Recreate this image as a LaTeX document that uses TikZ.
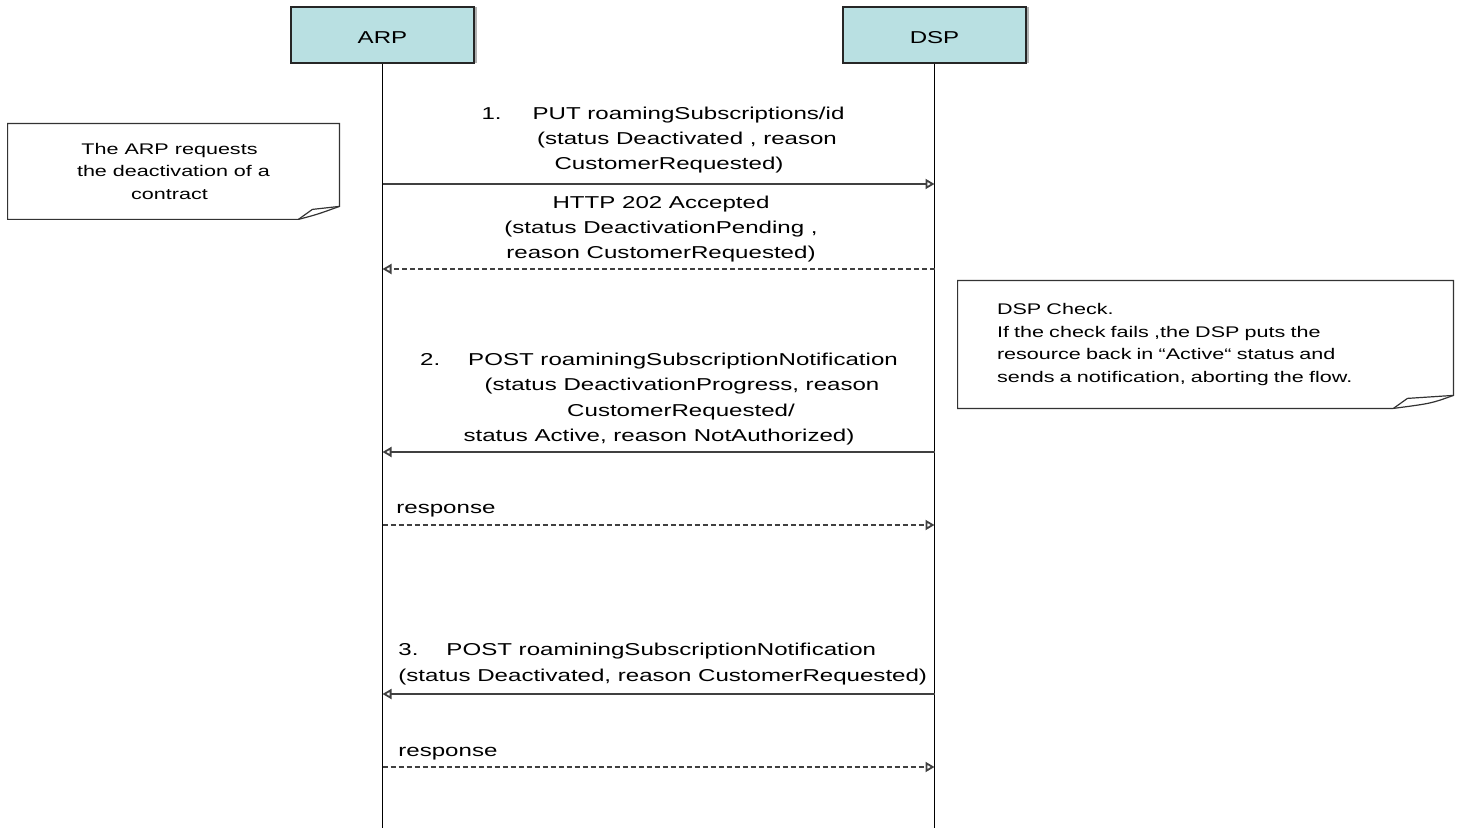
\documentclass[tikz,border=0pt]{standalone}
\usepackage{fontspec}
\setmainfont{Liberation Sans}[FakeStretch=1.40]
\usetikzlibrary{arrows.meta,calc,shadows}

\definecolor{actorfill}{HTML}{B9E0E2}
\definecolor{linegray}{HTML}{404040}

\tikzset{
  actor/.style={draw=black!85, fill=actorfill, line width=0.6pt,
    minimum width=91.5pt, minimum height=28pt, font=\fontsize{8.6}{10}\selectfont,
    text height=9pt, text depth=0pt,
    drop shadow={shadow xshift=1.4pt, shadow yshift=0pt, fill=black!30, opacity=1}},
  lifeline/.style={black, line width=0.6pt},
  msg/.style={linegray, line width=0.9pt, -{Triangle[open,length=4.5pt,width=5pt]}},
  reply/.style={msg, dash pattern=on 2.5pt off 1.5pt},
  msglabel/.style={font=\fontsize{8.6}{12.6}\selectfont, inner sep=0pt},
  note/.style={font=\fontsize{7.7}{11.4}\selectfont, inner sep=0pt},
  notebox/.style={draw=black!80, line width=0.6pt},
}

% outline of a note with the bottom right corner folded up
\newcommand\foldnote[2]{%
  \draw[notebox] (#1.north west) -- (#1.north east) -- ($(#1.south east)+(0,-13)$)
    .. controls ($(#1.south east)+(-22,-5)$) .. ($(#1.south east)+(-#2,0)$)
    -- (#1.south west) -- cycle;
  \draw[notebox] ($(#1.south east)+(-#2,0)$) -- ($(#1.south east)+(-#2+14,-10)$)
    -- ($(#1.south east)+(0,-13)$);
}

\begin{document}
\begin{tikzpicture}[x=0.5pt, y=-0.5pt]
  \useasboundingbox (0,0) rectangle (1460,828);

  % participants
  \node[actor] (arp) at (382.5,35) {ARP};
  \node[actor] (dsp) at (934.5,35) {DSP};
  \draw[lifeline] (arp.south) -- (arp |- 0,828);
  \draw[lifeline] (dsp.south) -- (dsp |- 0,828);

  % notes
  \node[note, minimum width=165.5pt, minimum height=47.5pt, align=center] (leftnote) at (173.5,171.5)
    {The ARP requests\hspace*{4pt}\\the deactivation of a\hspace*{4pt}\\contract\hspace*{4pt}};
  \foldnote{leftnote}{41}
  \node[note, minimum height=63.5pt, text width=208.5pt, inner xsep=19.5pt, align=left] (rightnote) at (1205.5,344.5)
    {DSP Check.\\If the check fails ,the DSP puts the\\resource back in “Active“ status and\\sends a notification, aborting the flow.};
  \foldnote{rightnote}{60}

  % 1. deactivation request
  \draw[msg] (arp |- 0,184) -- (dsp |- 0,184);
  \node[msglabel, align=center] (m1) at (678,140)
    {1.\hspace{15.5pt}PUT roamingSubscriptions/id\hspace*{15pt}\\\hspace{9pt}(status Deactivated , reason\\CustomerRequested)\hspace*{9pt}};
  \draw[reply] (dsp |- 0,269) -- (arp |- 0,269);
  \node[msglabel, align=center] (r1) at (661,229)
    {HTTP 202 Accepted\\(status DeactivationPending ,\\reason CustomerRequested)};

  % 2. notification
  \draw[msg] (dsp |- 0,452) -- (arp |- 0,452);
  \node[msglabel, align=center] (m2) at (659,399)
    {2.\hspace{14pt}POST roaminingSubscriptionNotification\\
     \hspace{23pt}(status DeactivationProgress, reason\\
     \hspace{22pt}CustomerRequested/\\status Active, reason NotAuthorized)};
  \draw[reply] (arp |- 0,525) -- (dsp |- 0,525);
  \node[msglabel, anchor=west] (r2) at (396,511) {response};

  % 3. final notification
  \draw[msg] (dsp |- 0,694) -- (arp |- 0,694);
  \node[msglabel, anchor=west, align=left] (m3) at (398,664)
    {3.\hspace{14pt}POST roaminingSubscriptionNotification\\(status Deactivated, reason CustomerRequested)};
  \draw[reply] (arp |- 0,767) -- (dsp |- 0,767);
  \node[msglabel, anchor=west] (r3) at (398,754) {response};
\end{tikzpicture}
\end{document}
